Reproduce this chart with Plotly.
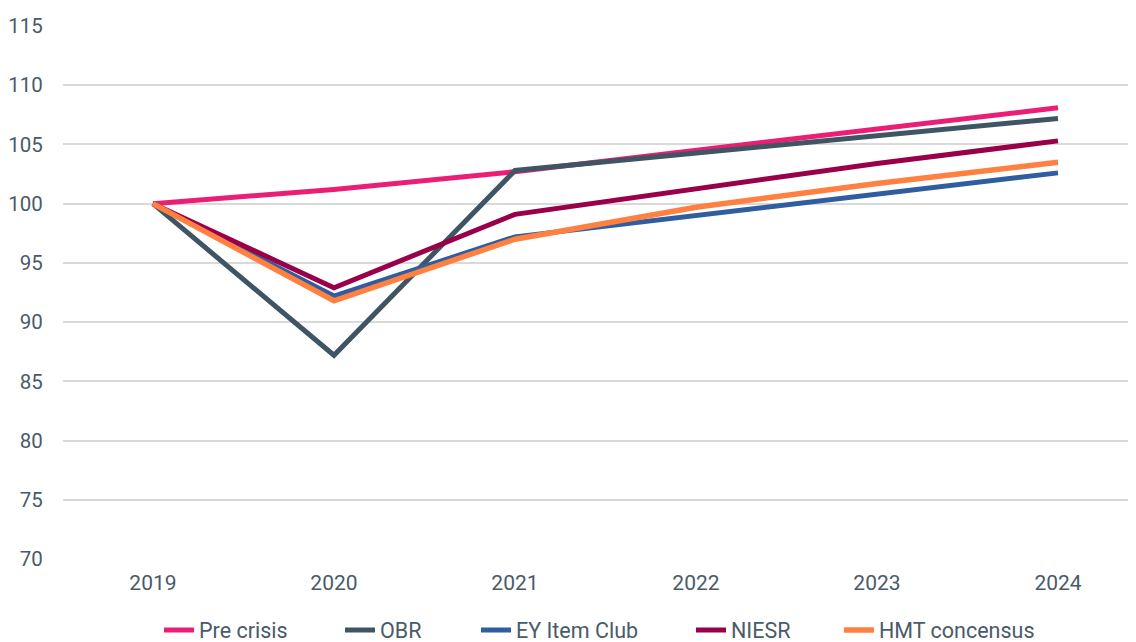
import plotly.graph_objects as go

years = ["2019", "2020", "2021", "2022", "2023", "2024"]
pre_crisis = [100, 101.2, 102.7, 104.5, 106.3, 108.1]
obr = [100, 87.2, 102.8, 104.3, 105.8, 107.2]
ey_item_club = [100, 92.2, 97.2, 99.0, 100.9, 102.6]
niesr = [100, 92.9, 99.1, 101.3, 103.4, 105.3]
hmt_consensus = [100, 91.8, 97.0, 99.7, 101.7, 103.5]

y_ticks = [70, 75, 80, 85, 90, 95, 100, 105, 110, 115]

series = [
    ("Pre crisis", pre_crisis, "#EB1E75", 5),
    ("OBR", obr, "#3F5563", 5),
    ("EY Item Club", ey_item_club, "#2F5DA0", 5),
    ("NIESR", niesr, "#990049", 5),
    ("HMT concensus", hmt_consensus, "#FF8040", 5.5),
]

# page offset (body margin) compensation
OFF = 8
W, H = 1136 - OFF, 642 - OFF
ML, MT, MB, MR = 63 - OFF, 25.5 - OFF, H - (559.5 - OFF), 0
PW = W - ML - MR
PH = H - MT - MB

legend_left_page = [159, 340, 476, 691, 839]
legend_top_page = 610

fig = go.Figure()
layout_legends = {}
for i, (name, vals, color, w) in enumerate(series):
    key = "legend" if i == 0 else f"legend{i+1}"
    fig.add_trace(go.Scatter(
        x=list(range(len(years))), y=vals, name=name, mode="lines",
        line=dict(color=color, width=w), legend=key,
    ))
    layout_legends[key] = dict(
        orientation="h",
        x=(legend_left_page[i] - OFF - ML) / PW, xanchor="left",
        y=-(legend_top_page - OFF - (MT + PH)) / PH, yanchor="top",
        font=dict(size=21.5, color="#4A5A6A"), bgcolor="rgba(0,0,0,0)",
        itemwidth=30,
    )

fig.update_layout(
    width=W, height=H,
    margin=dict(l=ML, r=MR, t=MT, b=MB, autoexpand=False),
    paper_bgcolor="white", plot_bgcolor="white",
    font=dict(family="Roboto, sans-serif", size=21, color="#4A5A6A"),
    showlegend=True,
    xaxis=dict(tickmode="array", tickvals=list(range(len(years))), ticktext=years,
               range=[-0.497, 5.431], showgrid=False, zeroline=False, showline=False,
               ticks="outside", ticklen=5, tickcolor="rgba(0,0,0,0)", automargin=False),
    yaxis=dict(range=[70, 115], tickvals=y_ticks, showgrid=True, gridcolor="#D9D9D9",
               gridwidth=1.5, zeroline=False, showline=False, ticks="outside",
               ticklen=15, tickcolor="rgba(0,0,0,0)", automargin=False,
               tickfont=dict(size=20.5)),
    **layout_legends,
)

fig.write_html("out.html")
